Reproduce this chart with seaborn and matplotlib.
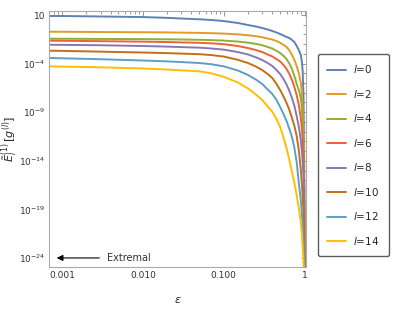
import matplotlib
matplotlib.use('Agg')
import matplotlib.pyplot as plt
import matplotlib.ticker as mticker
import seaborn as sns
import numpy as np
import pandas as pd

sns.set_theme(style='white')
plt.rcParams['font.family'] = ['DejaVu Sans']

# epsilon grid and log10 of the energy for each l
eps = [0.0007, 0.001, 0.003, 0.01, 0.02, 0.03, 0.05, 0.07, 0.1, 0.15, 0.2, 0.25,
       0.3, 0.35, 0.4, 0.45, 0.5, 0.55, 0.6, 0.65, 0.7, 0.75, 0.8, 0.85, 0.9,
       0.93, 0.95, 0.97, 0.98, 0.99, 0.995, 0.999, 0.9999]

log_l0 = [0.90, 0.90, 0.85, 0.79, 0.71, 0.64, 0.56, 0.49, 0.38, 0.18, -0.03, -0.18,
          -0.34, -0.49, -0.65, -0.80, -0.95, -1.11, -1.26, -1.37, -1.57, -1.78, -2.19, -2.60,
          -3.12, -3.84, -4.86, -7.23, -10.3, -13.9, -18.0, -23.2, -28.3]
log_l2 = [-0.72, -0.72, -0.75, -0.77, -0.79, -0.81, -0.84, -0.87, -0.91, -0.99, -1.08, -1.18,
          -1.28, -1.42, -1.53, -1.67, -1.86, -2.07, -2.29, -2.65, -3.12, -3.63, -4.25, -4.97,
          -6.0, -7.23, -8.77, -11.35, -13.9, -17.0, -20.1, -24.2, -28.3]
log_l4 = [-1.44, -1.44, -1.46, -1.48, -1.50, -1.52, -1.55, -1.58, -1.63, -1.73, -1.84, -1.97,
          -2.11, -2.29, -2.45, -2.68, -2.91, -3.20, -3.53, -3.99, -4.56, -5.28, -6.10, -6.72,
          -7.54, -8.77, -9.80, -11.86, -13.9, -16.5, -19.6, -23.7, -28.3]
log_l6 = [-1.64, -1.65, -1.69, -1.74, -1.78, -1.82, -1.86, -1.91, -2.00, -2.19, -2.40, -2.60,
          -2.81, -3.06, -3.27, -3.53, -3.78, -4.14, -4.56, -5.07, -5.69, -6.41, -7.23, -8.26,
          -9.60, -10.83, -11.86, -13.4, -14.95, -16.5, -19.1, -23.2, -28.3]
log_l8 = [-2.06, -2.07, -2.11, -2.19, -2.25, -2.30, -2.36, -2.44, -2.56, -2.81, -3.06, -3.35,
          -3.63, -3.94, -4.25, -4.66, -5.07, -5.58, -6.15, -6.82, -7.54, -8.36, -9.39, -10.52,
          -11.86, -13.1, -14.1, -15.5, -16.8, -18.0, -20.1, -23.7, -28.3]
log_l10 = [-2.67, -2.69, -2.77, -2.86, -2.92, -2.97, -3.03, -3.12, -3.27, -3.61, -3.94, -4.30,
           -4.66, -5.07, -5.48, -6.10, -6.72, -7.38, -8.05, -8.77, -9.60, -10.42, -11.45, -12.89,
           -14.95, -16.49, -17.72, -19.06, -20.3, -21.6, -23.2, -25.7, -28.3]
log_l12 = [-3.42, -3.45, -3.55, -3.68, -3.77, -3.84, -3.94, -4.06, -4.28, -4.71, -5.17, -5.64,
           -6.10, -6.66, -7.13, -7.74, -8.47, -9.19, -9.91, -10.73, -11.55, -12.68, -14.12, -16.28,
           -18.03, -19.57, -20.6, -22.1, -23.2, -24.2, -25.2, -26.8, -28.3]
log_l14 = [-4.28, -4.31, -4.38, -4.50, -4.61, -4.69, -4.79, -4.99, -5.36, -5.94, -6.56, -7.18,
           -7.74, -8.41, -8.95, -9.70, -10.52, -11.60, -12.73, -13.92, -15.15, -16.28, -17.52, -18.86,
           -20.30, -21.63, -22.97, -24.41, -25.75, -26.78, -27.50, -28.1, -28.8]

l_values = [0, 2, 4, 6, 8, 10, 12, 14]
series = [log_l0, log_l2, log_l4, log_l6, log_l8, log_l10, log_l12, log_l14]
colors = ['#5E81B5', '#E19C24', '#8FB032', '#EB6235',
          '#8778B3', '#C56E1A', '#5D9EC7', '#FFBF00']

rows = []
for l, vals in zip(l_values, series):
    for e, v in zip(eps, vals):
        rows.append({'eps': e, 'E': 10.0 ** v, 'l': f'$l$={l}'})
df = pd.DataFrame(rows)

fig = plt.figure(figsize=(3.96, 3.11), dpi=100)
ax = fig.add_axes([0.1245, 0.1415, 0.647, 0.823])

sns.lineplot(data=df, x='eps', y='E', hue='l', palette=colors, ax=ax,
             linewidth=1.4, sort=True, estimator=None)

ax.set_xscale('log')
ax.set_yscale('log')
ax.set_xlim(0.000697, 1.029)
ax.set_ylim(10 ** -24.93, 10 ** 1.41)

ax.xaxis.set_major_locator(mticker.FixedLocator([0.001, 0.01, 0.1, 1]))
ax.xaxis.set_major_formatter(mticker.FixedFormatter(['0.001', '0.010', '0.100', '1']))
ax.xaxis.set_minor_locator(mticker.LogLocator(base=10, subs=np.arange(2, 10), numticks=50))
ax.xaxis.set_minor_formatter(mticker.NullFormatter())

yt = [10.0, 1e-4, 1e-9, 1e-14, 1e-19, 1e-24]
ax.yaxis.set_major_locator(mticker.FixedLocator(yt))
ax.yaxis.set_major_formatter(mticker.FixedFormatter(
    ['10', r'$10^{-4}$', r'$10^{-9}$', r'$10^{-14}$', r'$10^{-19}$', r'$10^{-24}$']))
ax.yaxis.set_minor_locator(mticker.LogLocator(base=10, subs=(1.0,), numticks=100))
ax.yaxis.set_minor_formatter(mticker.NullFormatter())

ax.tick_params(which='both', direction='in', top=True, right=True,
               color='#888888', labelsize=6.5, labelcolor='#333333', width=0.6)
ax.tick_params(which='major', length=3.5, pad=3)
ax.tick_params(which='minor', length=2)
for s in ax.spines.values():
    s.set_color('#aaaaaa')
    s.set_linewidth(0.8)

ax.set_xlabel(r'$\varepsilon$', fontsize=8, labelpad=11)
ax.set_ylabel(r'$\tilde{E}_l^{(1)}\,[g^{(l)}]$', fontsize=8)
ax.yaxis.set_label_coords(-0.115, 0.5)

ax.annotate('', xy=(0.00086, 1e-24), xytext=(0.0029, 1e-24),
            arrowprops=dict(arrowstyle='-|>', color='black', lw=0.8,
                            mutation_scale=9, shrinkA=0, shrinkB=0))
ax.text(0.0036, 1e-24, 'Extremal', fontsize=7, color='#333333', va='center', ha='left')

leg = ax.legend(loc='center left', bbox_to_anchor=(1.049, 0.4375), fontsize=7.5,
                frameon=True, fancybox=True, handlelength=1.8, labelspacing=1.2,
                borderpad=0.9, handletextpad=0.7, borderaxespad=0)
leg.get_frame().set_edgecolor('#333333')
leg.get_frame().set_linewidth(1.0)
leg.set_title(None)

fig.savefig('out.png', dpi=100)
